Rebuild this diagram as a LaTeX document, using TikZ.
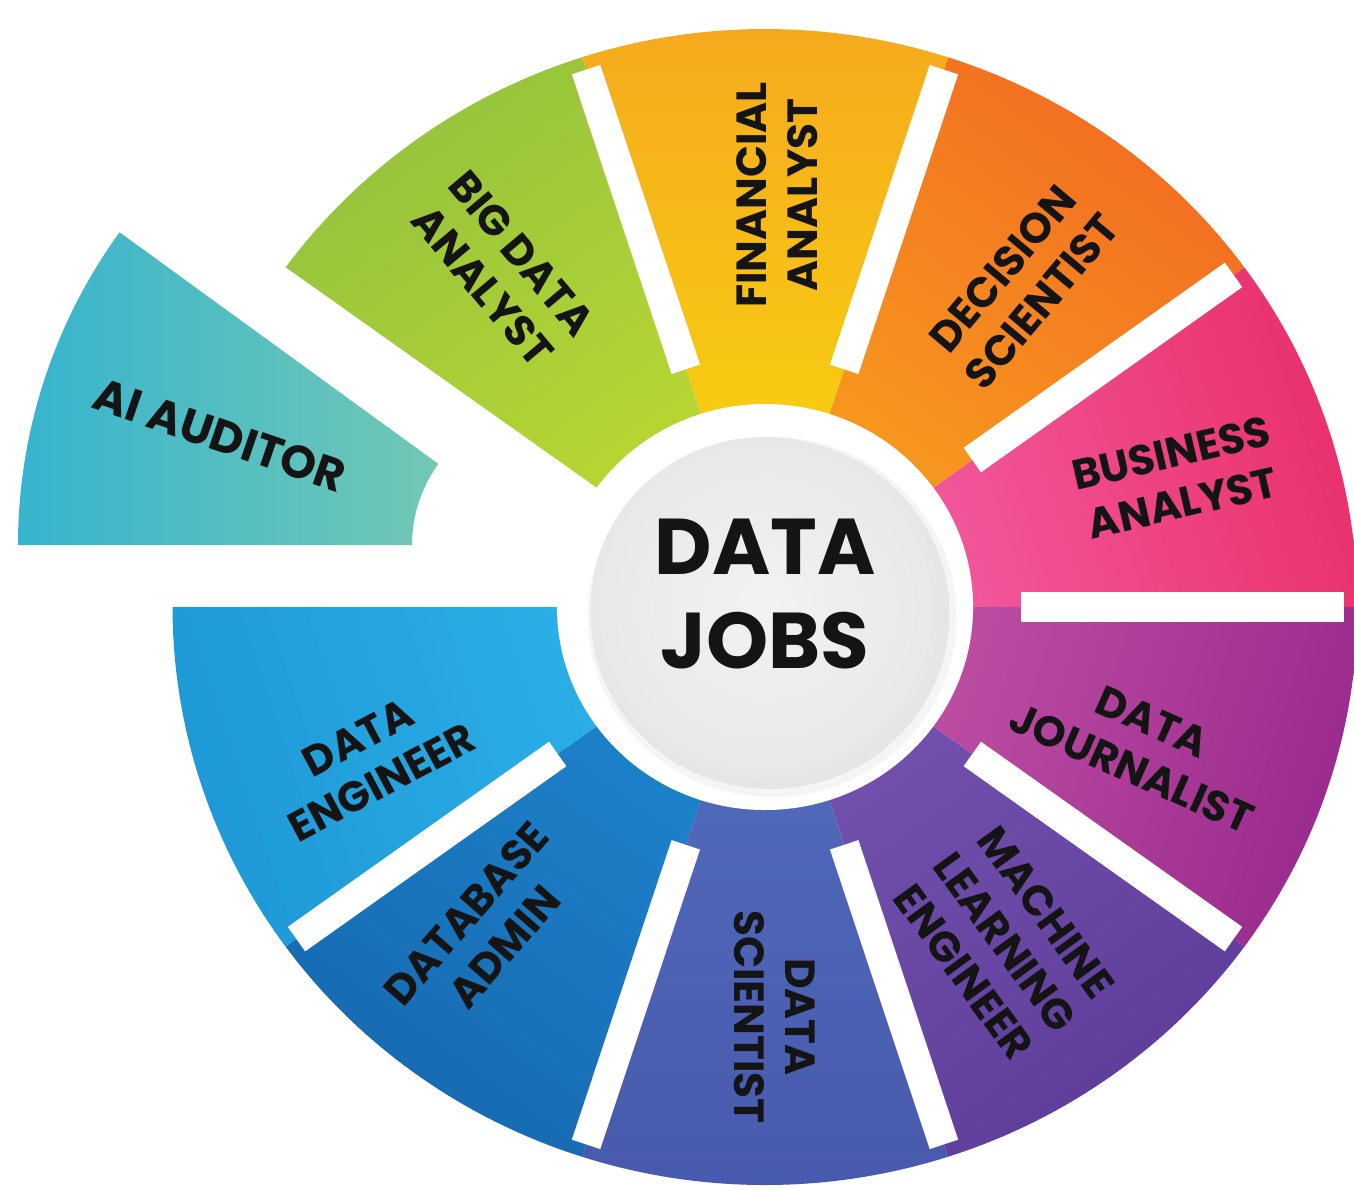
\documentclass[tikz,border=0pt]{standalone}
\usepackage{fontspec}
\setmainfont{Poppins}
\usepackage{tikz}

\definecolor{jobink}{HTML}{141414}
\definecolor{busiA}{HTML}{F2559A}
\definecolor{busiB}{HTML}{E9306A}
\definecolor{deciA}{HTML}{F7961E}
\definecolor{deciB}{HTML}{F26A22}
\definecolor{finaA}{HTML}{F8CC12}
\definecolor{finaB}{HTML}{F5A91E}
\definecolor{bigdA}{HTML}{B5D533}
\definecolor{bigdB}{HTML}{93C23E}
\definecolor{aiauA}{HTML}{36B4CE}
\definecolor{aiauB}{HTML}{72C8B4}
\definecolor{dengA}{HTML}{2AAEE6}
\definecolor{dengB}{HTML}{1E98D6}
\definecolor{dbadA}{HTML}{1C80C8}
\definecolor{dbadB}{HTML}{1668B0}
\definecolor{dsciA}{HTML}{5069BA}
\definecolor{dsciB}{HTML}{4859AC}
\definecolor{mlenA}{HTML}{7050AC}
\definecolor{mlenB}{HTML}{5C3C98}
\definecolor{djouA}{HTML}{BC4CA2}
\definecolor{djouB}{HTML}{992A8C}

\begin{document}
\begin{tikzpicture}[
  every node/.style={font=\bfseries\fontsize{12}{14.5}\selectfont, align=center, text=jobink},
  bar/.style={white, line width=0.3cm},
]
\useasboundingbox (-7.65,-5.81) rectangle (5.89,6.07);

\begin{scope}[xscale=1.025]
\foreach \a/\ci/\co in {0/busiA/busiB, 36/deciA/deciB, 72/finaA/finaB, 108/bigdA/bigdB,
  180/dengA/dengB, 216/dbadA/dbadB, 252/dsciA/dsciB, 288/mlenA/mlenB, 324/djouA/djouB}
  {
  \pgfmathsetmacro\sa{\a-72}
  \shade[bottom color=\ci, top color=\co, shading angle=\sa]
    (\a:1.9) -- (\a:5.78) arc[start angle=\a, end angle=\a+36, radius=5.78]
    -- (\a+36:1.9) arc[start angle=\a+36, end angle=\a, radius=1.9] -- cycle;
  }
\foreach \a in {0,36,72,108,216,252,288,324}
  \draw[bar] (\a:2.5) -- (\a:5.65);
\fill[white] (0,0) circle (2.03);
\fill[black, opacity=0.04] (0.07,-0.10) circle (1.80);
\fill[black, opacity=0.06] (0.05,-0.07) circle (1.75);
\shade[inner color=white!95!black, outer color=black!9] (0,0) circle (1.70);
\end{scope}

\begin{scope}[shift={(-2.15,0.62)}]
\shade[left color=aiauA, right color=aiauB]
  (180:1.38) -- (180:5.32) arc[start angle=180, end angle=144, radius=5.32]
  -- (144:1.38) arc[start angle=144, end angle=180, radius=1.38] -- cycle;
\end{scope}

\node[font=\bfseries\fontsize{22.5}{26.5}\selectfont] (jobs) at (0,0.13) {DATA\\JOBS};

\node[font=\bfseries\fontsize{13}{15}\selectfont, rotate=-19] (ai) at (-5.45,1.72) {AI AUDITOR};
\node[rotate=-50] (bigdata) at (-2.63,3.37) {BIG DATA\\ANALYST};
\node[rotate=90] (financial) at (0.12,4.12) {FINANCIAL\\ANALYST};
\node[rotate=50] (decision) at (2.57,3.22) {DECISION\\SCIENTIST};
\node[rotate=13] (business) at (4.12,1.29) {BUSINESS\\ANALYST};
\node[rotate=-24] (journalist) at (3.77,-1.38) {DATA\\JOURNALIST};
\node[rotate=-54] (mlengineer) at (2.4,-3.35) {MACHINE\\LEARNING\\ENGINEER};
\node[rotate=-90] (scientist) at (0.1,-4.1) {DATA\\SCIENTIST};
\node[rotate=49] (dbadmin) at (-2.8,-3.23) {DATABASE\\ADMIN};
\node[rotate=28] (engineer) at (-3.95,-1.53) {DATA\\ENGINEER};
\end{tikzpicture}
\end{document}
